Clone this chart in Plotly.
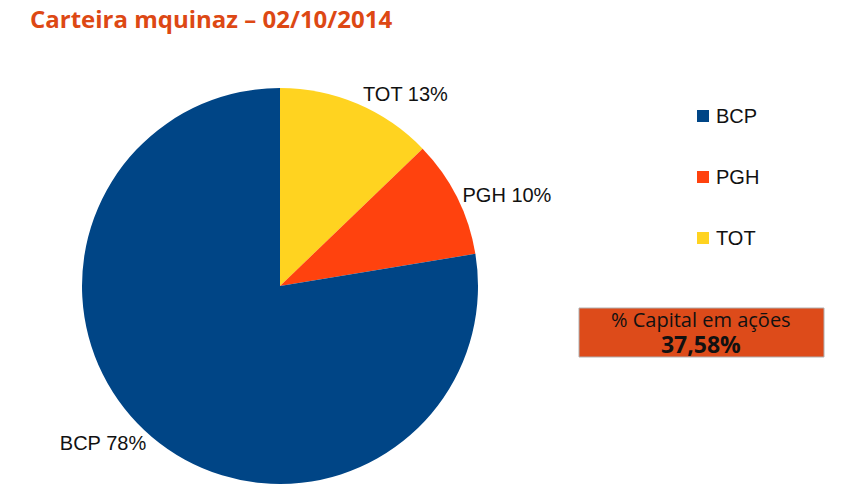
import plotly.graph_objects as go

labels = ["BCP", "PGH", "TOT"]
values = [77.6, 9.6, 12.8]
colors = ["#004586", "#ff420e", "#ffd320"]
title_text = "Carteira mquinaz – 02/10/2014"
box_label = "% Capital em ações"
box_value = "37,58%"

W, H = 845, 495
def px(x):
    return x / W
def py(y):
    return 1 - y / H

fig = go.Figure()
fig.add_trace(go.Pie(
    labels=labels[::-1], values=values[::-1], sort=False, direction="clockwise", rotation=0,
    marker=dict(colors=colors[::-1], line=dict(width=0)),
    texttemplate="%{label} %{percent:.0%}", textposition="outside",
    outsidetextfont=dict(family="Liberation Sans", size=20, color="#111"),
    domain=dict(x=[px(82), px(478)], y=[py(484), py(88)]),
    showlegend=False, hoverinfo="label+percent",
))

shapes = []
annotations = []
for i, (lab, col) in enumerate(zip(labels, colors)):
    yc = 116 + i * 61
    shapes.append(dict(type="rect", xref="paper", yref="paper",
                       x0=px(697), x1=px(709), y0=py(yc + 6), y1=py(yc - 6),
                       fillcolor=col, line=dict(width=0)))
    annotations.append(dict(x=px(714), y=py(yc), xref="paper", yref="paper", text=lab,
                            showarrow=False, xanchor="left", yanchor="middle",
                            font=dict(family="Liberation Sans", size=20, color="#111")))

shapes.append(dict(type="rect", xref="paper", yref="paper",
                   x0=px(579), x1=px(824), y0=py(357), y1=py(308),
                   fillcolor="#dd4b1a", line=dict(color="#b0b0b0", width=1)))
annotations.append(dict(x=px(701), y=py(333), xref="paper", yref="paper",
                        text=box_label + "<br><b><span style='font-size:23px'>" + box_value + "</span></b>",
                        showarrow=False, xanchor="center", yanchor="middle", align="center",
                        font=dict(family="Open Sans", size=20, color="#111")))
annotations.append(dict(x=px(28), y=1, xref="paper", yref="paper", text="<b>" + title_text + "</b>",
                        showarrow=False, xanchor="left", yanchor="top",
                        font=dict(family="Open Sans", size=24, color="#dd4814")))

fig.update_layout(width=W, height=H, margin=dict(l=0, r=0, t=0, b=0),
                  paper_bgcolor="white", plot_bgcolor="white",
                  shapes=shapes, annotations=annotations)
fig.write_html("out.html", config={"displayModeBar": False},
               post_script="document.body.style.margin='0';")
